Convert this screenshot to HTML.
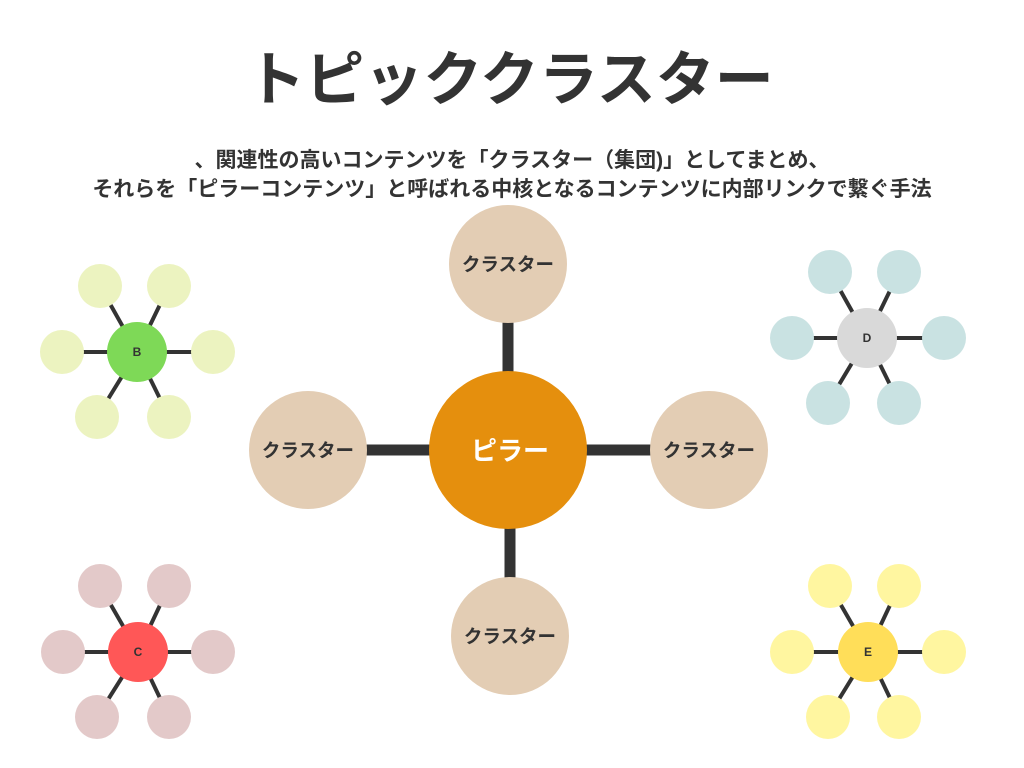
<!DOCTYPE html>
<html><head><meta charset="utf-8"><style>
body{margin:0;width:1024px;height:768px;background:#fff;overflow:hidden;font-family:"Liberation Sans","Noto Sans CJK JP",sans-serif;color:#333}
</style></head><body>
<svg width="1024" height="768" viewBox="0 0 1024 768" xmlns="http://www.w3.org/2000/svg" style="position:absolute;left:0;top:0">
<g font-family="Liberation Sans, Noto Sans CJK JP, sans-serif" fill="#333" font-weight="bold" text-anchor="middle">
<text x="510" y="100" font-size="59">トピッククラスター</text>
<text x="512" y="167" font-size="21">、関連性の高いコンテンツを「クラスター（集団)」としてまとめ、</text>
<text x="512" y="196" font-size="21">それらを「ピラーコンテンツ」と呼ばれる中核となるコンテンツに内部リンクで繋ぐ手法</text>
</g>
<g stroke="#333" stroke-width="11">
<line x1="508" y1="300" x2="508" y2="380"/>
<line x1="510" y1="520" x2="510" y2="600"/>
<line x1="350" y1="450" x2="440" y2="450"/>
<line x1="580" y1="450" x2="670" y2="450"/>
</g>
<g fill="#e3cdb4">
<circle cx="508" cy="264" r="59"/><circle cx="510" cy="636" r="59"/>
<circle cx="308" cy="450" r="59"/><circle cx="709" cy="450" r="59"/>
</g>
<circle cx="508" cy="450" r="79" fill="#e58f0d"/>
<g font-family="Liberation Sans, Noto Sans CJK JP, sans-serif" font-weight="bold" text-anchor="middle" font-size="18.5" fill="#333">
<text x="508" y="271">クラスター</text><text x="510" y="643">クラスター</text>
<text x="308" y="457">クラスター</text><text x="709" y="457">クラスター</text>
<text x="510" y="460" font-size="26" fill="#fff">ピラー</text>
</g>
<g stroke="#333" stroke-width="4">
<line x1="137" y1="352" x2="100" y2="286"/><line x1="137" y1="352" x2="169" y2="286"/><line x1="137" y1="352" x2="62" y2="352"/><line x1="137" y1="352" x2="213" y2="352"/><line x1="137" y1="352" x2="97" y2="417"/><line x1="137" y1="352" x2="169" y2="417"/>
<line x1="867" y1="338" x2="830" y2="272"/><line x1="867" y1="338" x2="899" y2="272"/><line x1="867" y1="338" x2="792" y2="338"/><line x1="867" y1="338" x2="944" y2="338"/><line x1="867" y1="338" x2="828" y2="403"/><line x1="867" y1="338" x2="899" y2="403"/>
<line x1="138" y1="652" x2="100" y2="586"/><line x1="138" y1="652" x2="169" y2="586"/><line x1="138" y1="652" x2="63" y2="652"/><line x1="138" y1="652" x2="213" y2="652"/><line x1="138" y1="652" x2="97" y2="717"/><line x1="138" y1="652" x2="169" y2="717"/>
<line x1="868" y1="652" x2="830" y2="586"/><line x1="868" y1="652" x2="899" y2="586"/><line x1="868" y1="652" x2="792" y2="652"/><line x1="868" y1="652" x2="944" y2="652"/><line x1="868" y1="652" x2="828" y2="717"/><line x1="868" y1="652" x2="899" y2="717"/>
</g>
<g fill="#ecf3c0"><circle cx="100" cy="286" r="22"/><circle cx="169" cy="286" r="22"/><circle cx="62" cy="352" r="22"/><circle cx="213" cy="352" r="22"/><circle cx="97" cy="417" r="22"/><circle cx="169" cy="417" r="22"/></g>
<circle cx="137" cy="352" r="30" fill="#7ed957"/>
<g fill="#c9e2e2"><circle cx="830" cy="272" r="22"/><circle cx="899" cy="272" r="22"/><circle cx="792" cy="338" r="22"/><circle cx="944" cy="338" r="22"/><circle cx="828" cy="403" r="22"/><circle cx="899" cy="403" r="22"/></g>
<circle cx="867" cy="338" r="30" fill="#d9d9d9"/>
<g fill="#e3c9c9"><circle cx="100" cy="586" r="22"/><circle cx="169" cy="586" r="22"/><circle cx="63" cy="652" r="22"/><circle cx="213" cy="652" r="22"/><circle cx="97" cy="717" r="22"/><circle cx="169" cy="717" r="22"/></g>
<circle cx="138" cy="652" r="30" fill="#ff5757"/>
<g fill="#fff6a0"><circle cx="830" cy="586" r="22"/><circle cx="899" cy="586" r="22"/><circle cx="792" cy="652" r="22"/><circle cx="944" cy="652" r="22"/><circle cx="828" cy="717" r="22"/><circle cx="899" cy="717" r="22"/></g>
<circle cx="868" cy="652" r="30" fill="#ffde59"/>
<g font-family="Liberation Sans, sans-serif" font-weight="bold" font-size="12" fill="#333" text-anchor="middle">
<text x="137" y="356">B</text><text x="867" y="342">D</text><text x="138" y="656">C</text><text x="868" y="656">E</text>
</g>
</svg>
</body></html>
